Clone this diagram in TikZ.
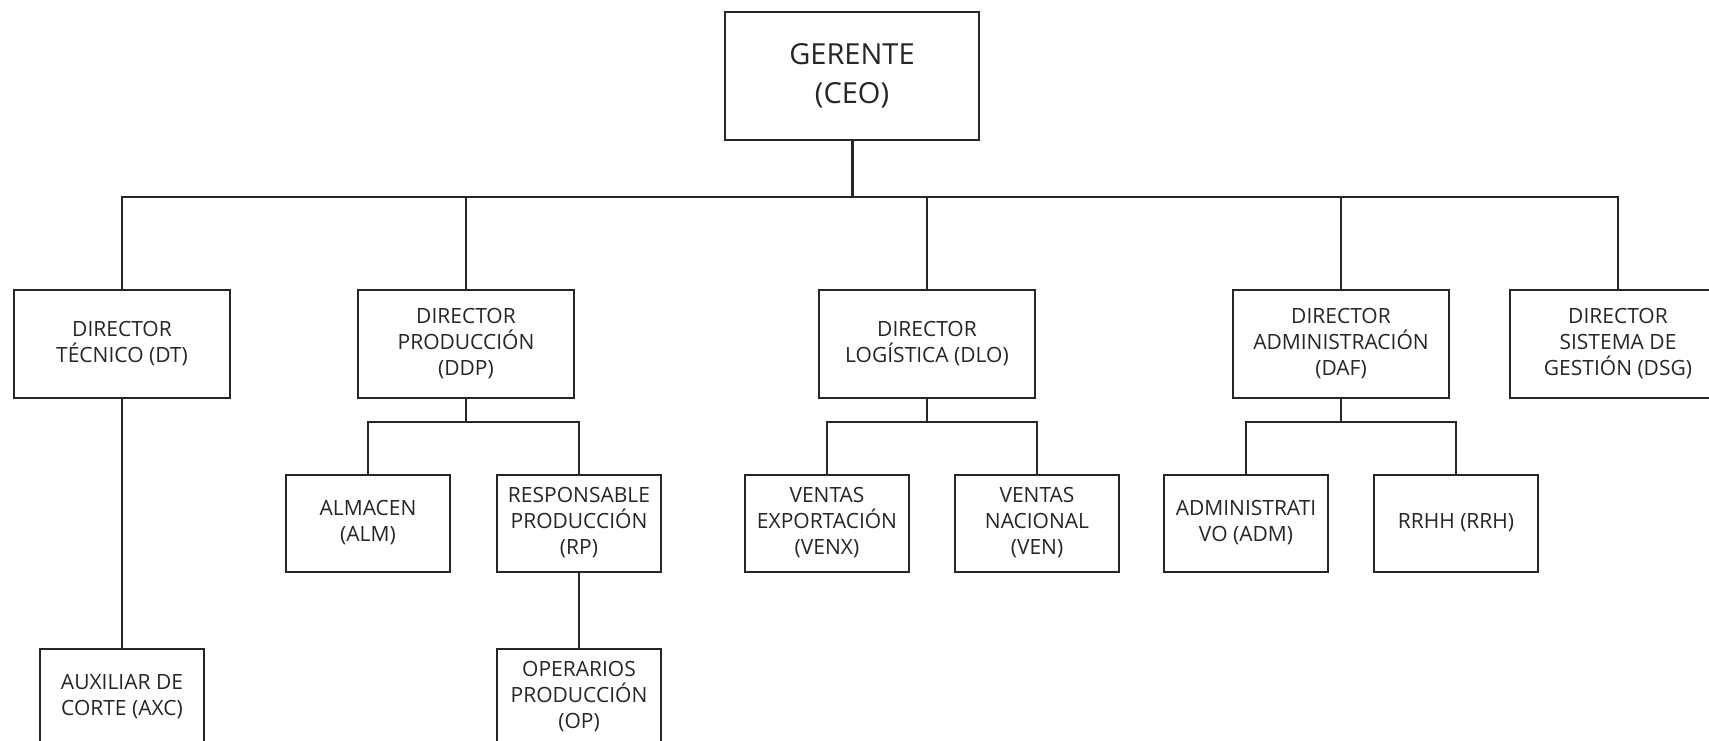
\documentclass[tikz,border=0pt]{standalone}
\usepackage{fontspec}
\setmainfont{Open Sans}
\begin{document}
\begin{tikzpicture}[x=1pt,y=-1pt,
    caja/.style={draw=black!85,line width=2pt,text=black!85,align=center,inner sep=0pt,
        font=\fontsize{21}{26}\selectfont},
    jefe/.style={caja,minimum width=216pt,minimum height=108pt},
    sub/.style={caja,minimum width=164pt,minimum height=97pt},
    linea/.style={draw=black!85,line width=1.6pt}]
    \clip (0,0) rectangle (1709,741);
    \fill[white] (0,0) rectangle (1709,741);
    \coordinate (bus) at (0,197);
    \coordinate (bus2) at (0,422);
    \node[caja,minimum width=254pt,minimum height=128pt,font=\fontsize{29}{39}\selectfont] (ceo) at (852,76) {GERENTE\\(CEO)};
    % directores
    \node[jefe] (dt) at (122,344) {DIRECTOR\\TÉCNICO (DT)};
    \node[jefe] (ddp) at (466,344) {DIRECTOR\\PRODUCCIÓN\\(DDP)};
    \node[jefe] (dlo) at (927,344) {DIRECTOR\\LOGÍSTICA (DLO)};
    \node[jefe] (daf) at (1341,344) {DIRECTOR\\ADMINISTRACIÓN\\(DAF)};
    \node[jefe] (dsg) at (1618,344) {DIRECTOR\\SISTEMA DE\\GESTIÓN (DSG)};
    % segundo nivel
    \node[sub] (alm) at (368,523) {ALMACEN\\(ALM)};
    \node[sub] (rp) at (579,523) {RESPONSABLE\\PRODUCCIÓN\\(RP)};
    \node[sub] (venx) at (827,523) {VENTAS\\EXPORTACIÓN\\(VENX)};
    \node[sub] (ven) at (1037,523) {VENTAS\\NACIONAL\\(VEN)};
    \node[sub] (adm) at (1246,523) {ADMINISTRATI\\VO (ADM)};
    \node[sub] (rrh) at (1456,523) {RRHH (RRH)};
    % tercer nivel
    \node[sub] (axc) at (122,697) {AUXILIAR DE\\CORTE (AXC)};
    \node[sub] (op) at (579,697) {OPERARIOS\\PRODUCCIÓN\\(OP)};
    % conexiones
    \draw[linea,line width=3pt] (ceo.south) -- (ceo.south |- bus);
    \draw[linea] (dt.north) -- (dt.north |- bus) -- (dsg.north |- bus) -- (dsg.north);
    \foreach \n in {ddp,dlo,daf}
        \draw[linea] (\n.north) -- (\n.north |- bus);
    \draw[linea] (ddp.south) -- (ddp.south |- bus2);
    \draw[linea] (alm.north) -- (alm.north |- bus2) -- (rp.north |- bus2) -- (rp.north);
    \draw[linea] (dlo.south) -- (dlo.south |- bus2);
    \draw[linea] (venx.north) -- (venx.north |- bus2) -- (ven.north |- bus2) -- (ven.north);
    \draw[linea] (daf.south) -- (daf.south |- bus2);
    \draw[linea] (adm.north) -- (adm.north |- bus2) -- (rrh.north |- bus2) -- (rrh.north);
    \draw[linea] (dt.south) -- (axc.north);
    \draw[linea] (rp.south) -- (op.north);
\end{tikzpicture}
\end{document}
